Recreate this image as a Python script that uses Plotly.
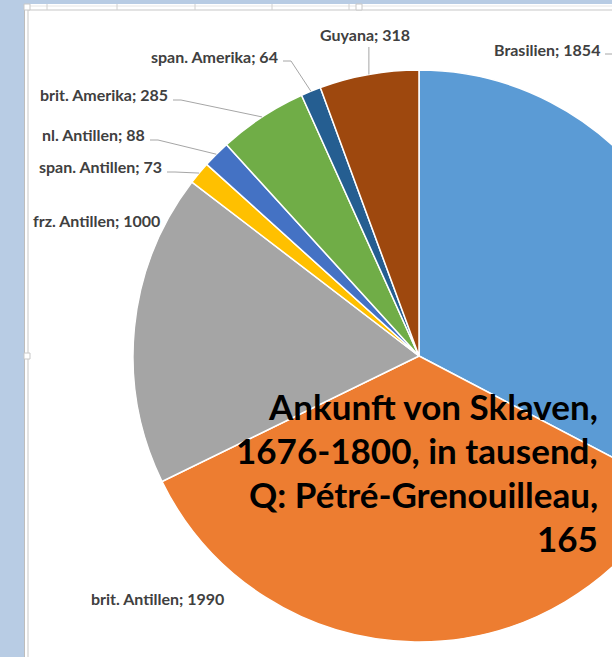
import math
import plotly.graph_objects as go

# ---- data ----
labels = ["Brasilien", "brit. Antillen", "frz. Antillen", "span. Antillen",
          "nl. Antillen", "brit. Amerika", "span. Amerika", "Guyana"]
values = [1854, 1990, 1000, 73, 88, 285, 64, 318]
colors = ["#5B9BD5", "#ED7D31", "#A5A5A5", "#FFC000",
          "#4472C4", "#70AD47", "#255E91", "#9E480E"]
title_lines = ["Ankunft von Sklaven,", "1676-1800, in tausend,",
               "Q: Pétré-Grenouilleau,", "165"]

# ---- layout (pixels) ----
W, H = 720, 657
CX, CY, R = 419, 356, 286
# label right-edge x, centre y, leader style
label_pos = [(602, 49, "h"), (226, 598, None), (162, 220, None), (164, 167, "h"),
             (147, 135, "h"), (170, 95, "h"), (280, 56, "h"), (412, 35, "v")]
title_right = 600
title_y = [406, 450, 494, 538]


def px(x):
    return x / W


def py(y):
    return 1 - y / H


fig = go.Figure()
fig.add_trace(go.Pie(
    labels=labels, values=values, sort=False, direction="clockwise", rotation=0,
    marker=dict(colors=colors, line=dict(color="white", width=1.5)),
    textinfo="none", hoverinfo="label+value", showlegend=False,
    domain=dict(x=[px(CX - R), px(CX + R)], y=[py(CY + R), py(CY - R)]),
))

shapes = []
annotations = []
total = sum(values)
cum = 0
for lab, val, (lx, ly, mode) in zip(labels, values, label_pos):
    mid = (cum + val / 2) / total * 2 * math.pi
    cum += val
    ex = CX + R * math.sin(mid)
    ey = CY - R * math.cos(mid)
    annotations.append(dict(
        x=px(lx), y=py(ly), xref="paper", yref="paper", xanchor="right", yanchor="middle",
        text=f"<b>{lab}; {val}</b>", showarrow=False,
        font=dict(family="Lato, 'Open Sans', sans-serif", size=16, color="#404040")))
    if mode == "h":
        sx, sy = lx + 3, ly + 5
        path = f"M {px(sx)} {py(sy)} L {px(sx + 8)} {py(sy)} L {px(ex)} {py(ey)}"
        shapes.append(dict(type="path", xref="paper", yref="paper", path=path,
                           line=dict(color="#a6a6a6", width=1)))
    elif mode == "v":
        sx = ex
        path = f"M {px(sx)} {py(ly + 12)} L {px(ex)} {py(ey)}"
        shapes.append(dict(type="path", xref="paper", yref="paper", path=path,
                           line=dict(color="#a6a6a6", width=1)))

for line, ty in zip(title_lines, title_y):
    annotations.append(dict(
        x=px(title_right), y=py(ty), xref="paper", yref="paper",
        xanchor="right", yanchor="middle", showarrow=False,
        text=f"<b>{line}</b>",
        font=dict(family="Lato, 'Open Sans', sans-serif", size=35, color="black")))

# ---- surrounding spreadsheet decoration ----
BLUE = "#b8cce4"
deco = [
    dict(type="rect", x0=0, x1=px(24), y0=0, y1=1, fillcolor=BLUE, line_width=0),
    dict(type="rect", x0=0, x1=1, y0=py(4), y1=1, fillcolor=BLUE, line_width=0),
    dict(type="line", x0=px(24.5), x1=px(24.5), y0=0, y1=py(4), line=dict(color="#bdbdbd", width=1)),
    dict(type="line", x0=px(28), x1=px(28), y0=0, y1=py(10), line=dict(color="#dadada", width=1.5)),
    dict(type="line", x0=px(28), x1=1, y0=py(10), y1=py(10), line=dict(color="#dadada", width=1.5)),
    dict(type="line", x0=px(24), x1=1, y0=py(6), y1=py(6), line=dict(color="#e6e6e6", width=1)),
]
for gx in [47, 117, 195, 272, 349]:
    deco.append(dict(type="line", x0=px(gx), x1=px(gx), y0=py(10), y1=py(4),
                     line=dict(color="#d0d0d0", width=1)))
for hx, hy in [(27, 7), (359, 7), (27, 356)]:
    deco.append(dict(type="rect", x0=px(hx - 3), x1=px(hx + 3), y0=py(hy + 3), y1=py(hy - 3),
                     fillcolor="white", line=dict(color="#c8c8c8", width=1)))

fig.update_layout(
    width=W, height=H, autosize=False,
    margin=dict(l=0, r=0, t=0, b=0),
    paper_bgcolor="white", plot_bgcolor="white",
    shapes=deco + shapes, annotations=annotations,
)

fig.write_html("out.html",
               post_script="document.body.style.margin='0';document.body.style.overflow='hidden';")
